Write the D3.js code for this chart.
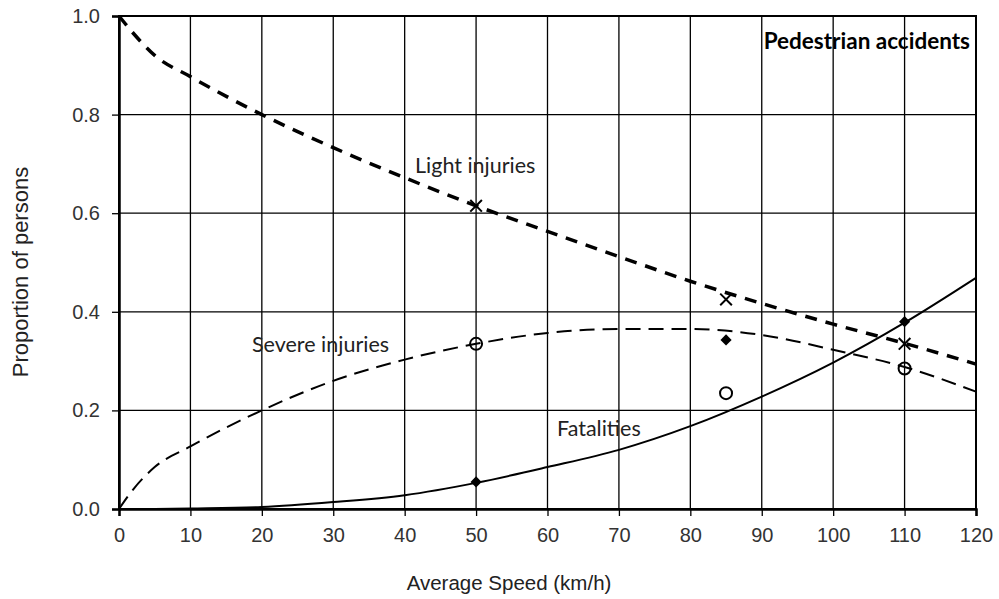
<!DOCTYPE html>
<html>
<head>
<meta charset="utf-8">
<script src="https://cdn.jsdelivr.net/npm/d3@7"></script>
<style>
  body { margin: 0; background: #fff; }
  svg { display: block; }
</style>
</head>
<body>
<svg id="chart" width="999" height="599"></svg>
<script>
// speeds (km/h) and proportions
let lightSpeed = [0, 2, 5, 10, 20, 30, 40, 50, 60, 70, 80, 90, 100, 110, 120];
let lightValue = [1.0, 0.965, 0.92, 0.877, 0.80, 0.733, 0.672, 0.615, 0.563, 0.512, 0.462, 0.417, 0.375, 0.336, 0.294];

let severeSpeed = [0, 2, 5, 10, 20, 30, 40, 50, 60, 70, 80, 90, 100, 110, 120];
let severeValue = [0.0, 0.04, 0.085, 0.127, 0.20, 0.26, 0.303, 0.335, 0.357, 0.365, 0.365, 0.353, 0.323, 0.288, 0.238];

let fatalSpeed = [5, 10, 20, 30, 40, 50, 60, 70, 80, 90, 100, 110, 120];
let fatalValue = [0.0, 0.001, 0.004, 0.014, 0.028, 0.053, 0.085, 0.12, 0.168, 0.228, 0.297, 0.378, 0.469];

// observed points
let obsSpeed = [50, 85, 110];
let obsLight = [0.615, 0.425, 0.335];
let obsSevere = [0.335, 0.235, 0.285];
let obsFatal = [0.055, 0.343, 0.38];

let xTicks = [0, 10, 20, 30, 40, 50, 60, 70, 80, 90, 100, 110, 120];
let yTicks = [0, 0.2, 0.4, 0.6, 0.8, 1.0];

let svg = d3.select("#chart");
let mLeft = 119, mRight = 976, mTop = 16, mBottom = 509;

let x = d3.scaleLinear().domain([0, 120]).range([mLeft, mRight]);
let y = d3.scaleLinear().domain([0, 1]).range([mBottom, mTop]);

// grid
let grid = svg.append("g");
grid.selectAll("line.vx")
    .data(xTicks)
    .join("line")
    .attr("class", "vx")
    .attr("x1", d => x(d)).attr("x2", d => x(d))
    .attr("y1", mTop).attr("y2", mBottom)
    .attr("stroke", "#000").attr("stroke-width", 1.3);
grid.selectAll("line.hy")
    .data(yTicks)
    .join("line")
    .attr("class", "hy")
    .attr("x1", mLeft).attr("x2", mRight)
    .attr("y1", d => y(d)).attr("y2", d => y(d))
    .attr("stroke", "#000").attr("stroke-width", 1.3);

// frame
svg.append("rect")
    .attr("x", mLeft).attr("y", mTop)
    .attr("width", mRight - mLeft).attr("height", mBottom - mTop)
    .attr("fill", "none").attr("stroke", "#000").attr("stroke-width", 2);

// axes
let xAxis = svg.append("g")
    .attr("transform", "translate(0," + mBottom + ")")
    .call(d3.axisBottom(x).tickValues(xTicks).tickSize(7).tickPadding(12).tickFormat(d3.format("d")));
let yAxis = svg.append("g")
    .attr("transform", "translate(" + mLeft + ",0)")
    .call(d3.axisLeft(y).tickValues(yTicks).tickSize(7).tickPadding(12).tickFormat(d3.format(".1f")));
[xAxis, yAxis].forEach(function (a) {
    a.select(".domain").attr("stroke", "#000").attr("stroke-width", 2.5);
    a.selectAll(".tick line").attr("stroke", "#000").attr("stroke-width", 1.3);
    a.selectAll("text")
        .attr("font-family", "'Liberation Sans', Arial, sans-serif")
        .attr("font-size", 20)
        .attr("fill", "#333");
});

// curves
let line = d3.line()
    .x(d => x(d[0]))
    .y(d => y(d[1]))
    .curve(d3.curveMonotoneX);

svg.append("path")
    .datum(d3.zip(lightSpeed, lightValue))
    .attr("d", line)
    .attr("fill", "none").attr("stroke", "#000")
    .attr("stroke-width", 3.5)
    .attr("stroke-dasharray", "12,9");

svg.append("path")
    .datum(d3.zip(severeSpeed, severeValue))
    .attr("d", line)
    .attr("fill", "none").attr("stroke", "#000")
    .attr("stroke-width", 2)
    .attr("stroke-dasharray", "15,8");

svg.append("path")
    .datum(d3.zip(fatalSpeed, fatalValue))
    .attr("d", line)
    .attr("fill", "none").attr("stroke", "#000")
    .attr("stroke-width", 2);

// markers
let cross = d3.symbol().type(d3.symbolX).size(90);
svg.selectAll("path.cross")
    .data(d3.zip(obsSpeed, obsLight))
    .join("path")
    .attr("class", "cross")
    .attr("transform", d => "translate(" + x(d[0]) + "," + y(d[1]) + ")")
    .attr("d", cross)
    .attr("fill", "none").attr("stroke", "#000").attr("stroke-width", 2);

svg.selectAll("circle.obs")
    .data(d3.zip(obsSpeed, obsSevere))
    .join("circle")
    .attr("class", "obs")
    .attr("cx", d => x(d[0])).attr("cy", d => y(d[1]))
    .attr("r", 6)
    .attr("fill", "none").attr("stroke", "#000").attr("stroke-width", 2);

let diamond = d3.symbol().type(d3.symbolSquare).size(62);
svg.selectAll("path.diamond")
    .data(d3.zip(obsSpeed, obsFatal))
    .join("path")
    .attr("class", "diamond")
    .attr("transform", d => "translate(" + x(d[0]) + "," + y(d[1]) + ") rotate(45)")
    .attr("d", diamond)
    .attr("fill", "#000");

// labels on curves
let labelFont = "Lato, 'Open Sans', sans-serif";
svg.append("text").attr("x", 415).attr("y", 173)
    .attr("font-family", labelFont).attr("font-size", 21.5).attr("fill", "#222")
    .text("Light injuries");
svg.append("text").attr("x", 252).attr("y", 352)
    .attr("font-family", labelFont).attr("font-size", 21.5).attr("fill", "#222")
    .text("Severe injuries");
svg.append("text").attr("x", 557).attr("y", 436)
    .attr("font-family", labelFont).attr("font-size", 21.5).attr("fill", "#222")
    .text("Fatalities");
svg.append("text").attr("x", 970).attr("y", 49)
    .attr("text-anchor", "end")
    .attr("font-family", labelFont).attr("font-size", 22.5).attr("font-weight", "bold").attr("fill", "#000")
    .text("Pedestrian accidents");

// axis titles
svg.append("text")
    .attr("x", 509).attr("y", 590)
    .attr("text-anchor", "middle")
    .attr("font-family", "'Liberation Sans', Arial, sans-serif").attr("font-size", 20.5).attr("fill", "#222")
    .text("Average Speed (km/h)");
svg.append("text")
    .attr("transform", "translate(28,272) rotate(-90)")
    .attr("text-anchor", "middle")
    .attr("font-family", "'Liberation Sans', Arial, sans-serif").attr("font-size", 22).attr("fill", "#222")
    .text("Proportion of persons");
</script>
</body>
</html>
